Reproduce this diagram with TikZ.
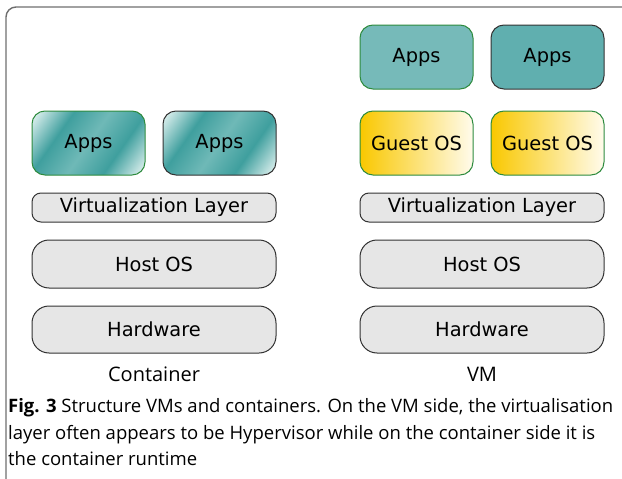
\documentclass[tikz,border=0pt]{standalone}
\usepackage{fontspec}
\setmainfont{DejaVu Sans}
\newfontfamily\capfont{Open Sans}
\usepackage{xcolor}
\usepackage{tikz}

\definecolor{frameGray}{HTML}{6E6E6E}
\definecolor{layerFill}{HTML}{E6E6E6}
\definecolor{layerLine}{HTML}{333333}
\definecolor{appsLight}{HTML}{D5ECEA}
\definecolor{appsMid}{HTML}{6FB9B7}
\definecolor{appsDark}{HTML}{3F9F9E}
\definecolor{vmAppsA}{HTML}{76BAB9}
\definecolor{vmAppsB}{HTML}{60AFAF}
\definecolor{boxGreen}{HTML}{2E8B3E}
\definecolor{guestGold}{HTML}{F9C800}
\definecolor{guestPale}{HTML}{FFFBEC}

\pgfdeclarehorizontalshading{appsteal}{100bp}{color(0bp)=(appsLight); color(18bp)=(appsLight);
  color(34bp)=(appsDark); color(50bp)=(appsMid); color(66bp)=(appsDark);
  color(82bp)=(appsLight); color(100bp)=(appsLight)}

\tikzset{
  layer/.style={draw=layerLine, line width=1pt, fill=layerFill, rounded corners=11pt,
    minimum width=244pt, inner sep=0pt, font=\fontsize{19.4}{20}\selectfont},
  appbox/.style={line width=1pt, rounded corners=13pt, minimum width=113pt,
    minimum height=64pt, inner sep=0pt, font=\fontsize{19.4}{20}\selectfont},
  greenline/.style={draw=boxGreen},
  grayline/.style={draw=layerLine},
  ctrapps/.style={appbox, shading=appsteal, shading angle=-35},
  guest/.style={appbox, greenline, left color=guestGold, right color=guestPale},
  sidelabel/.style={font=\capfont\fontsize{20}{22}\selectfont}
}

\begin{document}
\begin{tikzpicture}[x=1pt, y=-1pt]
        \useasboundingbox (0, 0) rectangle (622, 479);
        \begin{scope}
        \clip (0, 0) rectangle (622, 479);
        \draw[frameGray, line width=1.4pt, rounded corners=10pt] (6, 7) rectangle (660, 520);
        \end{scope}

        % container side
        \node[ctrapps, greenline] (ctrAppsA) at (88.5, 143) {Apps};
        \node[ctrapps, grayline] (ctrAppsB) at (219.5, 143) {Apps};
        \node[layer, minimum height=29pt, rounded corners=9pt] (ctrVirt) at (154, 207.5) {Virtualization Layer};
        \node[layer, minimum height=48pt, rounded corners=17pt] (ctrHost) at (154, 264) {Host OS};
        \node[layer, minimum height=47pt, rounded corners=17pt] (ctrHw) at (154, 329.5) {Hardware};
        \node[sidelabel] (ctrLabel) at (154, 374) {Container};

        % vm side
        \node[appbox, greenline, fill=vmAppsA] (vmAppsA) at (416.5, 57) {Apps};
        \node[appbox, grayline, fill=vmAppsB] (vmAppsB) at (547.5, 57) {Apps};
        \node[guest] (vmGuestA) at (416.5, 143) {Guest OS};
        \node[guest] (vmGuestB) at (547.5, 143) {Guest OS};
        \node[layer, minimum height=29pt, rounded corners=9pt] (vmVirt) at (482, 207.5) {Virtualization Layer};
        \node[layer, minimum height=48pt, rounded corners=17pt] (vmHost) at (482, 264) {Host OS};
        \node[layer, minimum height=47pt, rounded corners=17pt] (vmHw) at (482, 329.5) {Hardware};
        \node[sidelabel] (vmLabel) at (482, 374) {VM};

        % caption
        \node[anchor=north west, inner sep=0pt, align=left,
          font=\capfont\fontsize{18.5}{26.5}\selectfont] (caption) at (8, 398.5)
          {\textbf{Fig. 3} Structure VMs and containers. On the VM side, the virtualisation\\
           layer often appears to be Hypervisor while on the container side it is\\
           the container runtime};
    \end{tikzpicture}
\end{document}
